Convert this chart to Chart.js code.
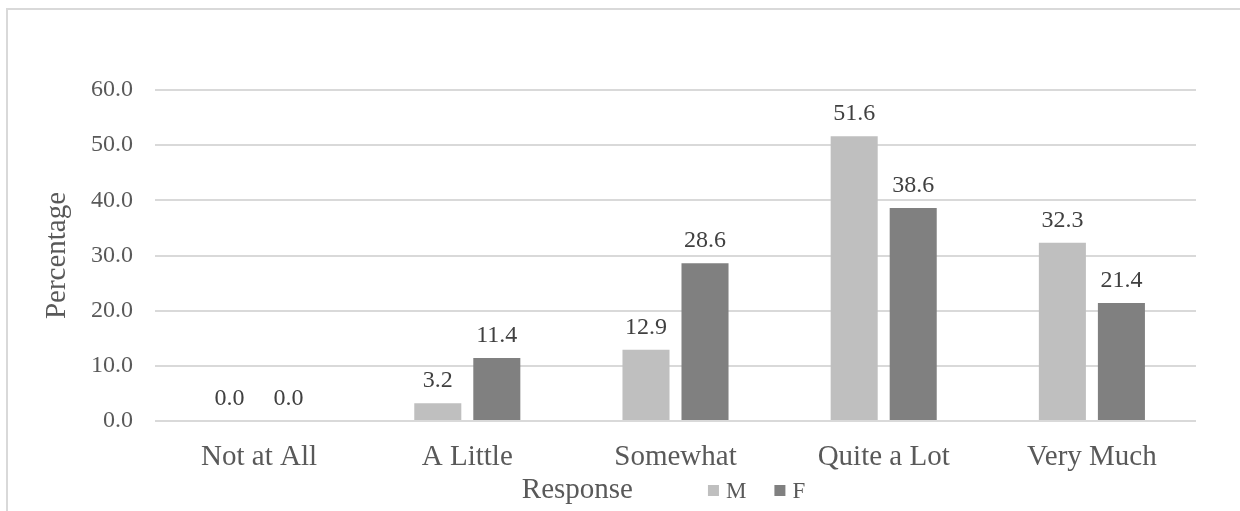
<!DOCTYPE html>
<html>
<head>
<meta charset="utf-8">
<script src="https://cdn.jsdelivr.net/npm/chart.js@4.4.1/dist/chart.umd.min.js"></script>
<style>
  html, body { margin: 0; padding: 0; background: #ffffff; }
  #wrap { position: relative; width: 1240px; height: 511px; }
  canvas { display: block; }
</style>
</head>
<body>
<div id="wrap"><canvas id="chart" width="1240" height="511"></canvas></div>
<script>
// Survey responses by gender (percent of respondents)
const categories = ['Not at All', 'A Little', 'Somewhat', 'Quite a Lot', 'Very Much'];
const maleValues = [0.0, 3.2, 12.9, 51.6, 32.3];
const femaleValues = [0.0, 11.4, 28.6, 38.6, 21.4];
const seriesNames = ['M', 'F'];
const xAxisTitle = 'Response';
const yAxisTitle = 'Percentage';

const FONT = '"Liberation Serif", "Times New Roman", serif';
const TEXT = '#595959';
const GRID = '#d9d9d9';

// Light frame around the chart
const framePlugin = {
  id: 'frame',
  beforeDraw(chart) {
    const ctx = chart.ctx;
    ctx.save();
    ctx.fillStyle = GRID;
    ctx.fillRect(6, 8, 2, chart.height);
    ctx.fillRect(6, 8, chart.width, 2);
    ctx.restore();
  }
};

// Value labels above every bar
const valueLabels = {
  id: 'valueLabels',
  afterDatasetsDraw(chart) {
    const ctx = chart.ctx;
    ctx.save();
    ctx.font = '24px ' + FONT;
    ctx.fillStyle = '#404040';
    ctx.textAlign = 'center';
    ctx.textBaseline = 'alphabetic';
    chart.data.datasets.forEach((ds, di) => {
      const meta = chart.getDatasetMeta(di);
      meta.data.forEach((bar, i) => {
        ctx.fillText(Number(ds.data[i]).toFixed(1), bar.x, bar.y - 16);
      });
    });
    ctx.restore();
  }
};

// Axis title and legend share one line under the category labels
const bottomLine = {
  id: 'bottomLine',
  afterDraw(chart) {
    const ctx = chart.ctx;
    const area = chart.chartArea;
    const baseY = 498;
    ctx.save();
    ctx.textBaseline = 'alphabetic';
    ctx.textAlign = 'left';
    ctx.font = '29px ' + FONT;
    const titleW = ctx.measureText(xAxisTitle).width;
    ctx.font = '23px ' + FONT;
    const box = 11, boxGap = 7, itemGap = 28, titleGap = 75;
    const items = chart.data.datasets.map(ds => ({
      label: ds.label, color: ds.backgroundColor, w: ctx.measureText(ds.label).width
    }));
    let total = titleW + titleGap;
    items.forEach((it, k) => { total += box + boxGap + it.w + (k < items.length - 1 ? itemGap : 0); });
    let x = (area.left + area.right) / 2 - 12 - total / 2;
    ctx.fillStyle = TEXT;
    ctx.font = '29px ' + FONT;
    ctx.fillText(xAxisTitle, x, baseY);
    x += titleW + titleGap;
    ctx.font = '23px ' + FONT;
    items.forEach(it => {
      ctx.fillStyle = it.color;
      ctx.fillRect(x, baseY - 13, box, box);
      x += box + boxGap;
      ctx.fillStyle = TEXT;
      ctx.fillText(it.label, x, baseY);
      x += it.w + itemGap;
    });
    ctx.restore();
  }
};

new Chart(document.getElementById('chart'), {
  type: 'bar',
  data: {
    labels: categories,
    datasets: [
      { label: seriesNames[0], data: maleValues, backgroundColor: '#bfbfbf' },
      { label: seriesNames[1], data: femaleValues, backgroundColor: '#808080' }
    ]
  },
  options: {
    responsive: false,
    animation: false,
    events: [],
    categoryPercentage: 0.567,
    barPercentage: 0.797,
    layout: { padding: { left: 40, top: 90, right: 44, bottom: 40 } },
    plugins: {
      legend: { display: false },
      tooltip: { enabled: false }
    },
    scales: {
      x: {
        grid: { display: false, drawTicks: false },
        border: { display: false },
        ticks: { color: TEXT, font: { family: FONT, size: 29 }, padding: 19, maxRotation: 0, autoSkip: false },
        afterFit(scale) { scale.height = 50; }
      },
      y: {
        min: 0,
        max: 60,
        ticks: {
          stepSize: 10,
          color: TEXT,
          font: { family: FONT, size: 24 },
          padding: 22,
          callback: v => Number(v).toFixed(1)
        },
        grid: { color: GRID, lineWidth: 2, drawTicks: false },
        border: { display: false },
        title: { display: true, text: yAxisTitle, color: TEXT, font: { family: FONT, size: 29 }, padding: 0 },
        afterFit(scale) { scale.width = 115; }
      }
    }
  },
  plugins: [framePlugin, valueLabels, bottomLine]
});
</script>
</body>
</html>
